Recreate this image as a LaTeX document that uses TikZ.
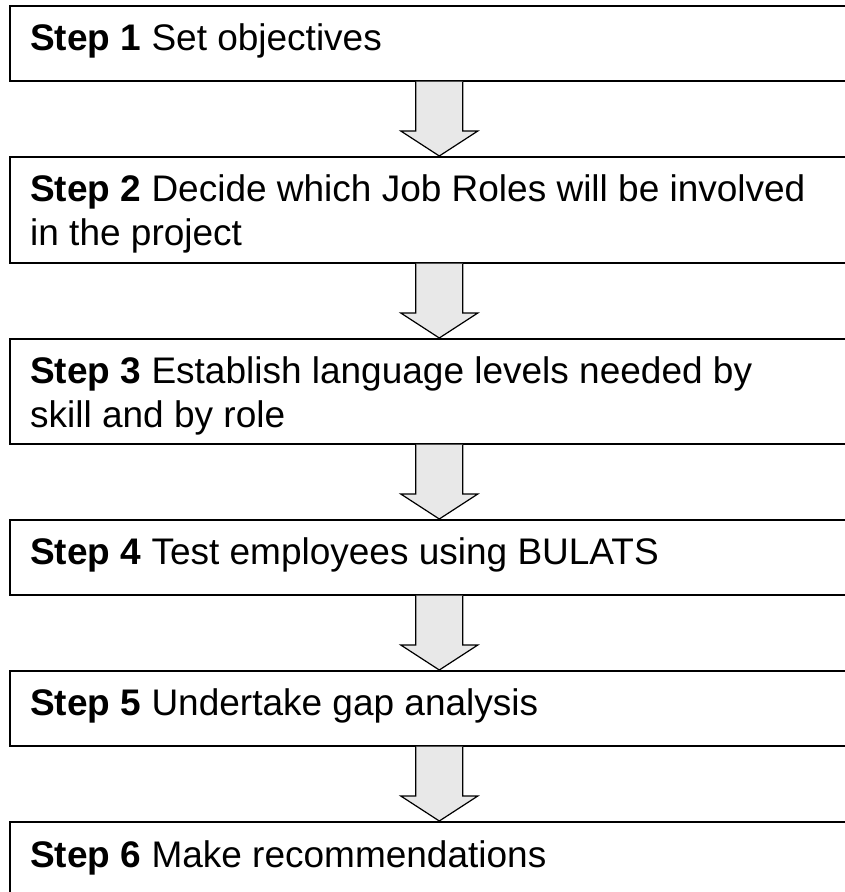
\documentclass[tikz,border=0pt]{standalone}
\usepackage{fontspec}
\setmainfont{Liberation Sans}
\usetikzlibrary{calc}
\begin{document}
\begin{tikzpicture}[x=1pt,y=-1pt,
  stepbox/.style={draw=black,line width=1.6pt,fill=white,rectangle,inner sep=0pt,
    minimum width=859pt,anchor=north west},
  steptext/.style={anchor=base west,inner sep=0pt,align=left,
    font=\fontsize{37}{44}\selectfont},
  blockarrow/.style={draw=black,line width=1.2pt,fill=arrowgray,line join=miter}]
\definecolor{arrowgray}{HTML}{E8E8E8}
\useasboundingbox (0,0) rectangle (845,892);
\clip (0,0) rectangle (845,892);

% step boxes
\node[stepbox,minimum height=75pt]  (s1) at (9,5)   {};
\node[stepbox,minimum height=106pt] (s2) at (9,156) {};
\node[stepbox,minimum height=105pt] (s3) at (9,338) {};
\node[stepbox,minimum height=75pt]  (s4) at (9,519) {};
\node[stepbox,minimum height=75pt]  (s5) at (9,670) {};
\node[stepbox,minimum height=90pt]  (s6) at (9,821) {};

% step labels (two-line labels are placed by the baseline of their last line)
\node[steptext] (t1) at ($(s1.north west)+(21,45)$) {\textbf{Step 1} Set objectives};
\node[steptext] (t2) at ($(s2.north west)+(21,89)$) {\textbf{Step 2} Decide which Job Roles will be involved\\in the project};
\node[steptext] (t3) at ($(s3.north west)+(21,89)$) {\textbf{Step 3} Establish language levels needed by\\skill and by role};
\node[steptext] (t4) at ($(s4.north west)+(21,45)$) {\textbf{Step 4} Test employees using BULATS};
\node[steptext] (t5) at ($(s5.north west)+(21,45)$) {\textbf{Step 5} Undertake gap analysis};
\node[steptext] (t6) at ($(s6.north west)+(21,46)$) {\textbf{Step 6} Make recommendations};

% block arrows between consecutive boxes
\foreach \a/\b in {s1/s2,s2/s3,s3/s4,s4/s5,s5/s6}{
  \draw[blockarrow]
    ($(\a.south)+(-23.5,0)$) -- ($(\b.north)+(-23.5,-25)$)
    -- ($(\b.north)+(-38.5,-25)$) -- (\b.north)
    -- ($(\b.north)+(38.5,-25)$) -- ($(\b.north)+(23.5,-25)$)
    -- ($(\a.south)+(23.5,0)$);
}
\end{tikzpicture}
\end{document}
